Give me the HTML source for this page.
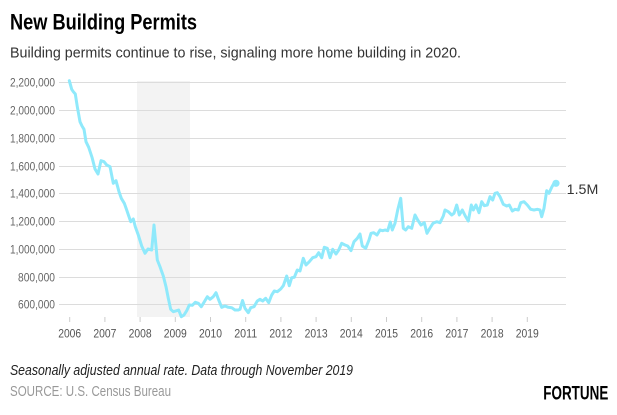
<!DOCTYPE html>
<html>
<head>
<meta charset="utf-8">
<style>
html,body{margin:0;padding:0;background:#fff;}
svg{display:block;}
text{font-family:"Liberation Sans Narrow","Liberation Sans",sans-serif;}
</style>
</head>
<body>
<svg width="617" height="415" viewBox="0 0 617 415" xmlns="http://www.w3.org/2000/svg">
<rect x="0" y="0" width="617" height="415" fill="#fff"/>
<text x="10" y="29.3" font-size="22.5" font-weight="bold" fill="#000" textLength="187" lengthAdjust="spacingAndGlyphs">New Building Permits</text>
<text x="10" y="57.3" font-size="15" fill="#333" textLength="451" lengthAdjust="spacingAndGlyphs">Building permits continue to rise, signaling more home building in 2020.</text>

<rect x="137" y="81" width="53" height="236" fill="#f3f3f3"/>

<g stroke="#dcdcdc" stroke-width="1">
<line x1="59" y1="82.5" x2="566" y2="82.5"/>
<line x1="59" y1="110.5" x2="566" y2="110.5"/>
<line x1="59" y1="138.5" x2="566" y2="138.5"/>
<line x1="59" y1="166.5" x2="566" y2="166.5"/>
<line x1="59" y1="193.5" x2="566" y2="193.5"/>
<line x1="59" y1="221.5" x2="566" y2="221.5"/>
<line x1="59" y1="249.5" x2="566" y2="249.5"/>
<line x1="59" y1="277.5" x2="566" y2="277.5"/>
<line x1="59" y1="304.5" x2="566" y2="304.5"/>
</g>

<g font-size="12" fill="#666" text-anchor="end">
<text x="55" y="86.5" textLength="45" lengthAdjust="spacingAndGlyphs">2,200,000</text>
<text x="55" y="114.5" textLength="45" lengthAdjust="spacingAndGlyphs">2,000,000</text>
<text x="55" y="142.5" textLength="45" lengthAdjust="spacingAndGlyphs">1,800,000</text>
<text x="55" y="170.5" textLength="45" lengthAdjust="spacingAndGlyphs">1,600,000</text>
<text x="55" y="197.5" textLength="45" lengthAdjust="spacingAndGlyphs">1,400,000</text>
<text x="55" y="225.5" textLength="45" lengthAdjust="spacingAndGlyphs">1,200,000</text>
<text x="55" y="253.5" textLength="45" lengthAdjust="spacingAndGlyphs">1,000,000</text>
<text x="55" y="281.5" textLength="37" lengthAdjust="spacingAndGlyphs">800,000</text>
<text x="55" y="308.5" textLength="37" lengthAdjust="spacingAndGlyphs">600,000</text>
</g>

<g stroke="#cccccc" stroke-width="1">
<line x1="69.7" y1="317" x2="69.7" y2="322"/>
<line x1="104.9" y1="317" x2="104.9" y2="322"/>
<line x1="140.1" y1="317" x2="140.1" y2="322"/>
<line x1="175.3" y1="317" x2="175.3" y2="322"/>
<line x1="210.5" y1="317" x2="210.5" y2="322"/>
<line x1="245.7" y1="317" x2="245.7" y2="322"/>
<line x1="280.9" y1="317" x2="280.9" y2="322"/>
<line x1="316.1" y1="317" x2="316.1" y2="322"/>
<line x1="351.3" y1="317" x2="351.3" y2="322"/>
<line x1="386.5" y1="317" x2="386.5" y2="322"/>
<line x1="421.7" y1="317" x2="421.7" y2="322"/>
<line x1="456.9" y1="317" x2="456.9" y2="322"/>
<line x1="492.1" y1="317" x2="492.1" y2="322"/>
<line x1="527.3" y1="317" x2="527.3" y2="322"/>
</g>

<g font-size="12" fill="#555" text-anchor="middle">
<text x="69.7" y="337.7" textLength="23" lengthAdjust="spacingAndGlyphs">2006</text>
<text x="104.9" y="337.7" textLength="23" lengthAdjust="spacingAndGlyphs">2007</text>
<text x="140.1" y="337.7" textLength="23" lengthAdjust="spacingAndGlyphs">2008</text>
<text x="175.3" y="337.7" textLength="23" lengthAdjust="spacingAndGlyphs">2009</text>
<text x="210.5" y="337.7" textLength="23" lengthAdjust="spacingAndGlyphs">2010</text>
<text x="245.7" y="337.7" textLength="23" lengthAdjust="spacingAndGlyphs">2011</text>
<text x="280.9" y="337.7" textLength="23" lengthAdjust="spacingAndGlyphs">2012</text>
<text x="316.1" y="337.7" textLength="23" lengthAdjust="spacingAndGlyphs">2013</text>
<text x="351.3" y="337.7" textLength="23" lengthAdjust="spacingAndGlyphs">2014</text>
<text x="386.5" y="337.7" textLength="23" lengthAdjust="spacingAndGlyphs">2015</text>
<text x="421.7" y="337.7" textLength="23" lengthAdjust="spacingAndGlyphs">2016</text>
<text x="456.9" y="337.7" textLength="23" lengthAdjust="spacingAndGlyphs">2017</text>
<text x="492.1" y="337.7" textLength="23" lengthAdjust="spacingAndGlyphs">2018</text>
<text x="527.3" y="337.7" textLength="23" lengthAdjust="spacingAndGlyphs">2019</text>
</g>

<polyline fill="none" stroke="#8fe9fb" stroke-width="3" stroke-linejoin="round" stroke-linecap="round" points="69.3,80.7 71.7,89.3 73.3,91.7 75.3,94 77.3,106.7 80,121.7 82,126 84,129.3 86,141.7 88.7,147.3 92,157.3 95,169 98,174 101,160.7 104,161.7 106.7,165 110,166.7 113.3,183.3 116,180.7 119,191.7 121.3,198.3 124.3,203.3 126.7,210 130.7,221.7 133.3,219 135.3,226.7 138.3,235 141.7,246 145,253.3 148,249 151.7,250 154,225 157.3,260 160,266.7 163.3,276 166,286.7 168.3,298.3 170.7,309.3 173.3,311.7 176.7,310.7 178.7,310 181.3,316.7 184,315 186.7,310.7 189.3,305 192.3,305.3 195.3,302.3 198.3,303.3 201.3,306.7 204,302.3 207.3,296.7 210,299.3 213.3,296.7 216,292.7 218.7,300 221.7,307.3 225,306 228.3,307.3 231.7,307.7 235,310 238.3,310 240,309.3 242.5,300.5 245,308.3 248.3,312.7 250.7,307.7 254,306.7 257.3,301 260,299.3 262.7,301 265.7,298.3 268.7,302.7 271.7,295 274.3,291 277.3,291.7 280.7,289 283.3,285.7 286.7,276 289.3,285.7 291.7,277.7 294.3,277.3 297.3,270 300,271 303.3,258.3 306,265 309.3,261.7 312.7,257.7 316,256.7 318.7,252.7 321.7,257.7 324.3,247.3 327.3,248.3 330,257.7 332.7,249.3 336,254 338.7,250 341.7,243.3 345,245 347.7,246 351,250.7 354,241.7 357.3,238.3 360,234 362.3,246 365.7,248.3 369,240 371,233.3 373.7,232.7 377,235 380,230 382.7,230.7 385,230 387.7,230.7 390.3,222 392.3,230 395,223.3 397.7,210 400.7,198.3 403.3,228.3 405.7,230 408.3,226.7 411.7,228.3 415,215 417.7,220 421,225 424.3,222.7 427,233.3 430,228 433,223.3 436.7,221.7 440,222.7 443.3,216 445,210 448.3,211.7 451.7,215 454,213.3 456.7,205 459.3,215 462.3,210 465.3,216 468.3,221 471.3,205 473.3,210 476,205 479,212.7 481.7,201.7 484.3,205.7 487.3,205 490,196.7 492.7,200 495,193.3 497.3,192.7 500,196.7 503.3,204.3 506.7,206 509.3,205 512.3,211 515,209.3 518.3,210 520.7,202.7 524,201.7 527.3,205 530.7,209.3 534,210 537.3,209.3 540,210 541.7,216.7 544,208.3 546.7,190.7 549,193.3 551.7,187.3 554,183.3 556,183.3"/>
<circle cx="556" cy="183.3" r="3.6" fill="#8fe9fb"/>
<text x="566.7" y="194" font-size="13.5" fill="#333" textLength="31.6" lengthAdjust="spacingAndGlyphs">1.5M</text>

<text x="10" y="375" font-size="14.5" font-style="italic" fill="#222" textLength="343" lengthAdjust="spacingAndGlyphs">Seasonally adjusted annual rate. Data through November 2019</text>
<text x="10" y="396" font-size="14.5" fill="#999" textLength="161" lengthAdjust="spacingAndGlyphs">SOURCE: U.S. Census Bureau</text>
<text x="543.3" y="399.3" font-size="19.5" font-weight="bold" fill="#000" textLength="65" lengthAdjust="spacingAndGlyphs">FORTUNE</text>
</svg>
</body>
</html>
